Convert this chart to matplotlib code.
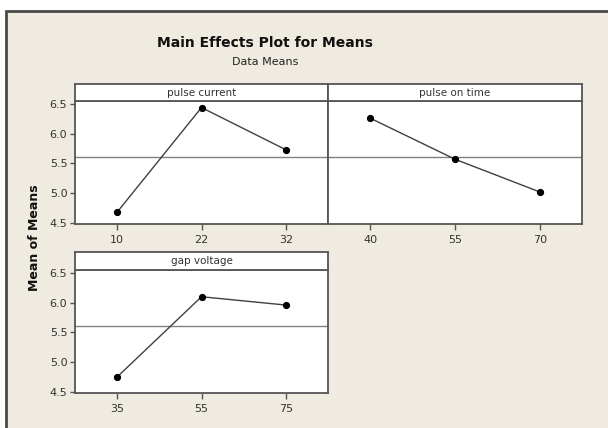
import matplotlib.pyplot as plt
from matplotlib.patches import Rectangle

# factor levels and mean responses
pulse_current = ["10", "22", "32"]
pulse_current_means = [4.68, 6.44, 5.73]

pulse_on_time = ["40", "55", "70"]
pulse_on_time_means = [6.26, 5.57, 5.02]

gap_voltage = ["35", "55", "75"]
gap_voltage_means = [4.75, 6.10, 5.96]

grand_mean = 5.61
y_ticks = [4.5, 5.0, 5.5, 6.0, 6.5]

W, H = 608, 428
BG = "#F0EBE1"
FRAME = "#555555"

plt.rcParams['font.family'] = ['DejaVu Sans']

fig = plt.figure(figsize=(W / 100, H / 100), dpi=100)
fig.patch.set_facecolor("white")

# beige background with a dark frame (left and top edges visible)
fig.patches.append(Rectangle((6 / W, -0.1), 1.2, 1 - 11 / H + 0.1,
                             transform=fig.transFigure, facecolor=BG,
                             edgecolor="#4a4a4a", linewidth=2, zorder=-5))


def px(x0, y0, x1, y1):
    return [x0 / W, 1 - y1 / H, (x1 - x0) / W, (y1 - y0) / H]


def panel(x0, x1, y_strip, y_top, y_bot, name, levels, means, show_y):
    ax = fig.add_axes(px(x0, y_top, x1, y_bot))
    ax.set_facecolor("white")
    pos = range(1, len(levels) + 1)
    ax.axhline(grand_mean, color="#808080", linewidth=1.0, zorder=1)
    ax.plot(pos, means, color="#404040", linewidth=1.0, zorder=2)
    ax.plot(pos, means, "o", color="black", markersize=4.2, zorder=3)
    ax.set_xlim(0.5, len(levels) + 0.5)
    ax.set_ylim(4.48, 6.55)
    ax.set_xticks(list(pos))
    ax.set_xticklabels(levels)
    ax.set_yticks(y_ticks)
    ax.set_yticklabels([f"{v:.1f}" for v in y_ticks])
    ax.tick_params(axis="both", direction="out", length=3.5, width=1,
                   color=FRAME, labelsize=8, labelcolor="#333333", pad=2)
    ax.tick_params(axis="x", length=4, pad=4)
    if not show_y:
        ax.tick_params(axis="y", left=False, labelleft=False)
    for s in ax.spines.values():
        s.set_color(FRAME)
        s.set_linewidth(1.3)

    st = fig.add_axes(px(x0, y_strip, x1, y_top))
    st.set_facecolor("white")
    st.set_xticks([])
    st.set_yticks([])
    for s in st.spines.values():
        s.set_color(FRAME)
        s.set_linewidth(1.3)
    st.text(0.5, 0.5, name, ha="center", va="center", fontsize=7.5,
            color="#333333", transform=st.transAxes)
    return ax


panel(75, 328, 84, 101, 224, "pulse current",
      pulse_current, pulse_current_means, True)
panel(328, 582, 84, 101, 224, "pulse on time",
      pulse_on_time, pulse_on_time_means, False)
panel(75, 328, 252, 270, 393, "gap voltage",
      gap_voltage, gap_voltage_means, True)

fig.text(265 / W, 1 - 43 / H, "Main Effects Plot for Means", ha="center",
         va="center", fontsize=10, fontweight="bold", color="#111111")
fig.text(265 / W, 1 - 62 / H, "Data Means", ha="center", va="center",
         fontsize=8, color="#222222")
fig.text(34 / W, 1 - 238 / H, "Mean of Means", ha="center", va="center",
         rotation=90, fontsize=9, fontweight="bold", color="#111111")

fig.savefig("out.png", dpi=100, facecolor=fig.get_facecolor())
